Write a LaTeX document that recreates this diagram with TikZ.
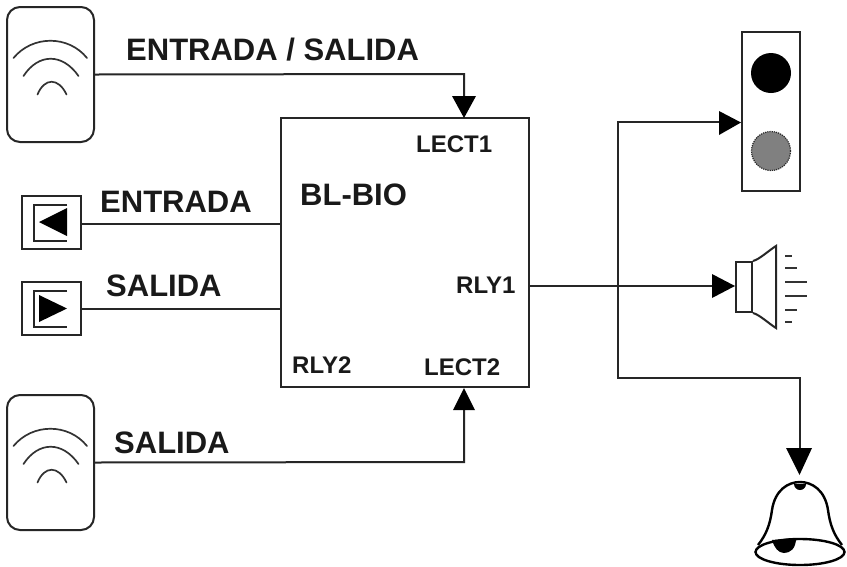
\documentclass[tikz,border=0pt]{standalone}
\usepackage{fontspec}
\setmainfont{Liberation Sans}
\begin{document}
\begin{tikzpicture}[x=1pt,y=-1pt,
  ln/.style={draw=black!85,line width=2pt},
  thin ln/.style={draw=black!80,line width=1.6pt},
  wave/.style={draw=black!80,line width=1.7pt,line cap=round},
  lbl/.style={inner sep=0pt,font=\bfseries\fontsize{31}{31}\selectfont,anchor=base west,text=black!90},
  sml/.style={inner sep=0pt,font=\bfseries\fontsize{24}{24}\selectfont,anchor=base west,text=black!90},
  head/.style={fill=black,draw=none}]
\useasboundingbox (0,0) rectangle (847,566);
\fill[white] (0,0) rectangle (847,566);
% main block
\node[ln,draw,minimum width=248pt,minimum height=269pt,inner sep=0pt] (bio) at (405,252.5) {};
% readers
\node[ln,draw,rounded corners=13pt,minimum width=87pt,minimum height=135pt,inner sep=0pt] (rt) at (50.5,74.5) {};
\node[ln,draw,rounded corners=13pt,minimum width=87pt,minimum height=135pt,inner sep=0pt] (rb) at (50.5,462.5) {};
\foreach \c in {rt,rb}{
  \begin{scope}[shift={(\c.center)}]
  \draw[wave] (-37,-16.5) .. controls (-18,-39.5) and (18,-39.5) .. (36.5,-16.5);
  \draw[wave] (-27,1.5) .. controls (-12,-21.5) and (12,-21.5) .. (28,1.5);
  \draw[wave] (-13,20) .. controls (-6,3) and (8,3) .. (16,20);
  \end{scope}
}
% push buttons
\node[ln,draw,minimum width=59pt,minimum height=53pt,inner sep=0pt] (be) at (51.5,222.5) {};
\node[ln,draw,minimum width=59pt,minimum height=53pt,inner sep=0pt] (bs) at (51.5,308.5) {};
\draw[ln] (67,204.5) -| (33.5,241) -- (67,241);
\fill[head] (39,222) -- (67,208) -- (67,236) -- cycle;
\draw[ln] (67,290.5) -| (33.5,327) -- (67,327);
\fill[head] (39,295) -- (67,308.5) -- (39,322) -- cycle;
% traffic light
\node[ln,draw,minimum width=58pt,minimum height=159pt,inner sep=0pt] (tl) at (771,111.5) {};
\fill[black] (771,73) circle (20);
\draw[black!85,fill=black!50,line width=1.2pt,densely dotted] (771,151) circle (19.5);
% speaker
\node[ln,draw,minimum width=16pt,minimum height=50pt,inner sep=0pt] (sp) at (744,287) {};
\draw[ln] (sp.north east) .. controls (760,259) and (768,251) .. (776,246) -- (776,328) .. controls (768,323) and (760,315) .. (sp.south east);
\foreach \y/\l in {256/7,268/12,282/22,296/22,310/12,322/7}
  \draw[thin ln] (785,\y) -- ++(\l,0);
% bell
\fill[black] (794,484) arc (180:0:6) -- cycle;
\draw[draw=black,line width=2.4pt] (758,545) .. controls (766,535) and (770,525) .. (772,510) .. controls (775,490) and (788,482) .. (800,482) .. controls (812,482) and (825,490) .. (828,510) .. controls (830,525) and (834,535) .. (842,545);
\draw[draw=black,line width=2.4pt] (800,552) ellipse (44.5 and 13);
\fill[black] (772,540) -- (796,538) .. controls (796,549) and (790,553) .. (784,553) .. controls (778,553) and (774,547) .. (772,540) -- cycle;
% wires
\coordinate (jt) at (618,122);
\coordinate (jb) at (618,378);
\draw[ln] (rt.east) -- (464,74) -- (464,100);
\fill[head] (452,96) -- (476,96) -- (464,118) -- cycle;
\draw[ln] (rb.east) -- (464,462) -- (464,405);
\fill[head] (453,410) -- (475,410) -- (464,388) -- cycle;
\draw[ln] ([yshift=-1.5pt]be.east) -- ([yshift=-1.5pt]be.east -| bio.west);
\draw[ln] (bs.east) -- (bs.east -| bio.west);
\draw[ln] (529,286) -- (716,286);
\fill[head] (712,274) -- (735,286) -- (712,298) -- cycle;
\draw[ln] (723,122) -- (jt) -- (jb) -- (800,378) -- (800,452);
\fill[head] (719,111) -- (741,122.5) -- (719,135) -- cycle;
\fill[head] (786,448) -- (812,448) -- (799.5,475) -- cycle;
% labels
\node[lbl] (t1) at (126,60) {ENTRADA / SALIDA};
\node[lbl] (t2) at (100,212.5) {ENTRADA};
\node[lbl] (t3) at (106,296.5) {SALIDA};
\node[lbl] (t4) at (114,453) {SALIDA};
\node[lbl] (t5) at (300,205) {BL-BIO};
\node[sml] (t6) at (416,152) {LECT1};
\node[sml] (t7) at (456,293) {RLY1};
\node[sml] (t8) at (292,373) {RLY2};
\node[sml] (t9) at (424,375) {LECT2};
\end{tikzpicture}
\end{document}
